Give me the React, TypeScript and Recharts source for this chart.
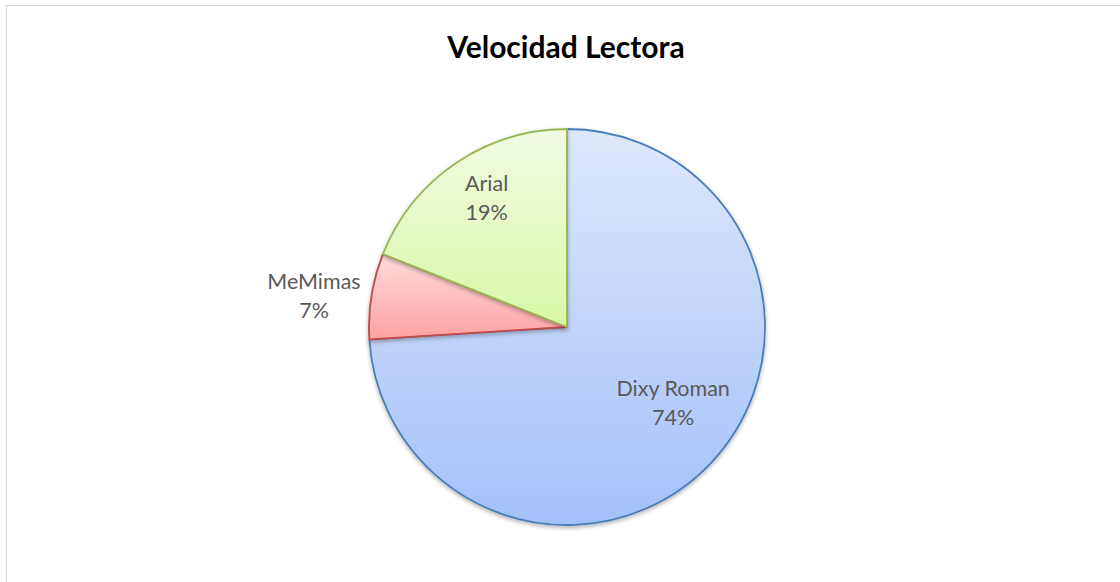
import { PieChart, Pie, Cell } from 'recharts'

const fonts = ['Dixy Roman', 'MeMimas', 'Arial']
const shares = [74, 7, 19]
const fills = ['url(#gradBlue)', 'url(#gradRed)', 'url(#gradGreen)']
const strokes = ['#4a7ebb', '#be4b48', '#98b954']

const data = fonts.map((name, i) => ({ name, value: shares[i] }))

const RAD = Math.PI / 180

interface LabelArgs {
  cx?: number
  cy?: number
  midAngle?: number
  outerRadius?: number
  percent?: number
  name?: string
}

function SliceLabel(props: unknown) {
  const { cx = 0, cy = 0, midAngle = 0, outerRadius = 0, percent = 0, name } = props as LabelArgs
  // small slices get their label outside the pie, like Excel does
  let angle = midAngle
  let r = outerRadius * 0.77
  if (percent < 0.1) {
    angle = midAngle + 1.8
    r = outerRadius + 57
  } else if (percent > 0.5) {
    angle = midAngle + 8
    r = outerRadius * 0.656
  } else {
    angle = midAngle - 2.4
  }
  const x = cx + r * Math.cos(-angle * RAD)
  const y = cy + r * Math.sin(-angle * RAD)
  return (
    <text
      x={x}
      y={y}
      textAnchor="middle"
      fill="#595959"
      fontSize={21.5}
      fontFamily="Lato, 'Open Sans', sans-serif"
    >
      <tspan x={x} dy={-6}>{name}</tspan>
      <tspan x={x} dy={29}>{`${Math.round(percent * 100)}%`}</tspan>
    </text>
  )
}

export default function App() {
  return (
    <div style={{ position: 'absolute', left: 0, top: 0, width: 1120, height: 582, overflow: 'hidden', background: '#fff' }}>
      <div
        style={{
          position: 'absolute',
          left: 6,
          top: 5,
          width: 1140,
          height: 600,
          border: '1.5px solid #d9d9d9',
        }}
      />
      <div
        style={{
          position: 'absolute',
          left: 0,
          top: 26,
          width: 1132,
          textAlign: 'center',
          fontFamily: "Lato, 'Open Sans', sans-serif",
          fontWeight: 700,
          fontSize: 30,
          lineHeight: '40px',
          color: '#000',
        }}
      >
        Velocidad Lectora
      </div>
      <div style={{ position: 'absolute', left: 0, top: 0 }}>
        <PieChart width={1120} height={582} margin={{ top: 0, right: 0, bottom: 0, left: 0 }}>
          <defs>
            <linearGradient id="gradBlue" x1="0" y1="0" x2="0" y2="1">
              <stop offset="0%" stopColor="#dee8fb" />
              <stop offset="100%" stopColor="#a3c1f9" />
            </linearGradient>
            <linearGradient id="gradRed" x1="0" y1="0" x2="0" y2="1">
              <stop offset="0%" stopColor="#ffdcdc" />
              <stop offset="100%" stopColor="#ffa2a2" />
            </linearGradient>
            <linearGradient id="gradGreen" x1="0" y1="0" x2="0" y2="1">
              <stop offset="0%" stopColor="#f1fbe2" />
              <stop offset="100%" stopColor="#d9f7a6" />
            </linearGradient>
            <filter id="pieShadow" x="-10%" y="-10%" width="120%" height="125%">
              <feDropShadow dx="0" dy="2" stdDeviation="2" floodColor="#000" floodOpacity="0.3" />
            </filter>
          </defs>
          <Pie
            data={data}
            dataKey="value"
            nameKey="name"
            cx={567}
            cy={327}
            outerRadius={198}
            startAngle={90}
            endAngle={-270}
            stroke="none"
            labelLine={false}
            label={SliceLabel}
            isAnimationActive={false}
          >
            {data.map((d, i) => (
              <Cell
                key={d.name}
                fill={fills[i]}
                stroke={strokes[i]}
                strokeWidth={1.8}
                filter="url(#pieShadow)"
              />
            ))}
          </Pie>
        </PieChart>
      </div>
    </div>
  )
}
